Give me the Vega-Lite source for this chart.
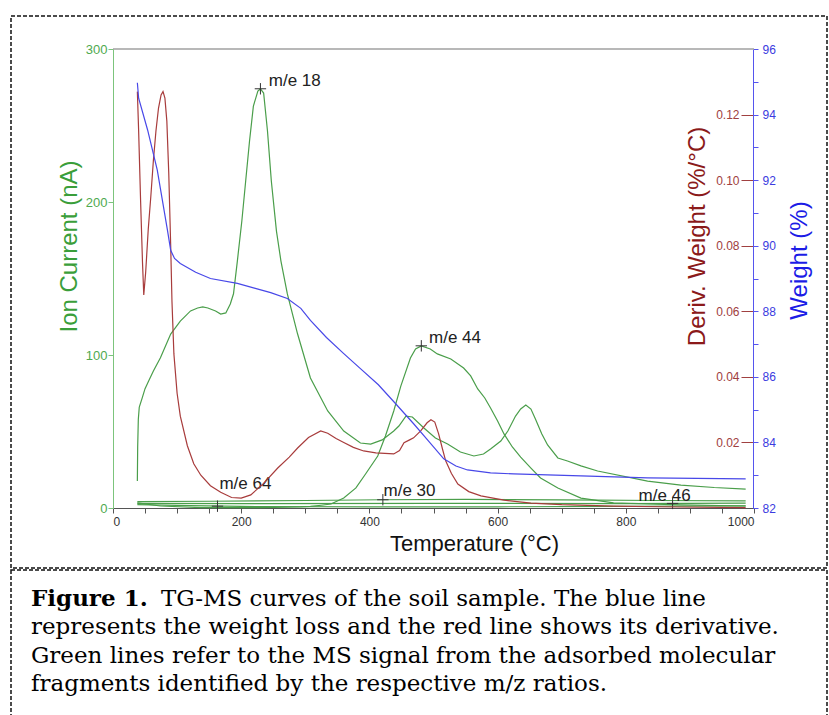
{
  "$schema": "https://vega.github.io/schema/vega-lite/v6.json",
  "padding": {"left": 10, "top": 15, "right": 0, "bottom": 0},
  "autosize": {"type": "pad"},
  "background": "white",
  "spacing": 0,
  "config": {
    "view": {"stroke": "#111", "strokeWidth": 1.5, "strokeDash": [4, 2]},
    "axis": {"grid": false, "labelFont": "Liberation Sans", "titleFont": "Liberation Sans", "titleFontWeight": "normal", "labelOverlap": false},
    "text": {"font": "Liberation Sans"}
  },
  "datasets": {
    "ms": [
      {"mz": "18", "T": 38, "ion": 17.6}, {"mz": "18", "T": 38.5, "ion": 40}, {"mz": "18", "T": 39.5, "ion": 58}, {"mz": "18", "T": 41, "ion": 66}, {"mz": "18", "T": 45.6, "ion": 72}, {"mz": "18", "T": 50, "ion": 78}, {"mz": "18", "T": 55.6, "ion": 83}, {"mz": "18", "T": 63, "ion": 89.5}, {"mz": "18", "T": 74, "ion": 98.2}, {"mz": "18", "T": 90, "ion": 113.7}, {"mz": "18", "T": 105, "ion": 122.2}, {"mz": "18", "T": 121, "ion": 128.8}, {"mz": "18", "T": 132, "ion": 130.7}, {"mz": "18", "T": 140, "ion": 131.5}, {"mz": "18", "T": 148, "ion": 130.7}, {"mz": "18", "T": 160, "ion": 128.8}, {"mz": "18", "T": 168, "ion": 126.8}, {"mz": "18", "T": 176, "ion": 127.5}, {"mz": "18", "T": 183, "ion": 133.3}, {"mz": "18", "T": 188, "ion": 140}, {"mz": "18", "T": 194, "ion": 161.4}, {"mz": "18", "T": 201, "ion": 187.6}, {"mz": "18", "T": 207, "ion": 213.7}, {"mz": "18", "T": 213, "ion": 239.9}, {"mz": "18", "T": 219, "ion": 262.7}, {"mz": "18", "T": 226, "ion": 272.5}, {"mz": "18", "T": 230, "ion": 273.9}, {"mz": "18", "T": 235, "ion": 271.2}, {"mz": "18", "T": 241, "ion": 246.4}, {"mz": "18", "T": 247, "ion": 213.7}, {"mz": "18", "T": 255, "ion": 181}, {"mz": "18", "T": 262, "ion": 161.4}, {"mz": "18", "T": 272, "ion": 139.9}, {"mz": "18", "T": 288, "ion": 113.7}, {"mz": "18", "T": 308, "ion": 85}, {"mz": "18", "T": 335, "ion": 63.4}, {"mz": "18", "T": 360, "ion": 50.3}, {"mz": "18", "T": 386, "ion": 42.5}, {"mz": "18", "T": 402, "ion": 41.8}, {"mz": "18", "T": 420, "ion": 44.5}, {"mz": "18", "T": 438, "ion": 50.3}, {"mz": "18", "T": 446, "ion": 53.6}, {"mz": "18", "T": 457, "ion": 60.1}, {"mz": "18", "T": 467, "ion": 59.5}, {"mz": "18", "T": 485, "ion": 52.3}, {"mz": "18", "T": 503, "ion": 45.8}, {"mz": "18", "T": 522, "ion": 41.8}, {"mz": "18", "T": 542, "ion": 36.6}, {"mz": "18", "T": 563, "ion": 34}, {"mz": "18", "T": 578, "ion": 35.3}, {"mz": "18", "T": 589, "ion": 38.6}, {"mz": "18", "T": 605, "ion": 43.8}, {"mz": "18", "T": 616, "ion": 50.3}, {"mz": "18", "T": 628, "ion": 60.1}, {"mz": "18", "T": 636, "ion": 64.7}, {"mz": "18", "T": 644, "ion": 67.3}, {"mz": "18", "T": 652, "ion": 64.7}, {"mz": "18", "T": 659, "ion": 58.2}, {"mz": "18", "T": 669, "ion": 48.4}, {"mz": "18", "T": 678, "ion": 41.2}, {"mz": "18", "T": 694, "ion": 32.7}, {"mz": "18", "T": 709, "ion": 30.7}, {"mz": "18", "T": 730, "ion": 27.5}, {"mz": "18", "T": 756, "ion": 24.2}, {"mz": "18", "T": 834, "ion": 17.6}, {"mz": "18", "T": 886, "ion": 15}, {"mz": "18", "T": 938, "ion": 13.4}, {"mz": "18", "T": 987, "ion": 12.4},
      {"mz": "44", "T": 38, "ion": 3.3}, {"mz": "44", "T": 74, "ion": 1.3}, {"mz": "44", "T": 137, "ion": 0.3}, {"mz": "44", "T": 230, "ion": 0.3}, {"mz": "44", "T": 293, "ion": 0.7}, {"mz": "44", "T": 308, "ion": 1.0}, {"mz": "44", "T": 325, "ion": 1.8}, {"mz": "44", "T": 340, "ion": 2.6}, {"mz": "44", "T": 360, "ion": 6.5}, {"mz": "44", "T": 379, "ion": 13.1}, {"mz": "44", "T": 394, "ion": 22.2}, {"mz": "44", "T": 413, "ion": 34}, {"mz": "44", "T": 425, "ion": 47.1}, {"mz": "44", "T": 438, "ion": 63.4}, {"mz": "44", "T": 449, "ion": 79.7}, {"mz": "44", "T": 464, "ion": 98}, {"mz": "44", "T": 472, "ion": 103.9}, {"mz": "44", "T": 481, "ion": 105.9}, {"mz": "44", "T": 495, "ion": 103.9}, {"mz": "44", "T": 506, "ion": 100.7}, {"mz": "44", "T": 527, "ion": 97.4}, {"mz": "44", "T": 547, "ion": 91.5}, {"mz": "44", "T": 558, "ion": 86.3}, {"mz": "44", "T": 569, "ion": 77.8}, {"mz": "44", "T": 580, "ion": 71.9}, {"mz": "44", "T": 589, "ion": 65.4}, {"mz": "44", "T": 600, "ion": 56.9}, {"mz": "44", "T": 610, "ion": 48.4}, {"mz": "44", "T": 623, "ion": 39.9}, {"mz": "44", "T": 636, "ion": 33.3}, {"mz": "44", "T": 652, "ion": 26.1}, {"mz": "44", "T": 667, "ion": 19.6}, {"mz": "44", "T": 694, "ion": 13.1}, {"mz": "44", "T": 730, "ion": 6.5}, {"mz": "44", "T": 781, "ion": 3.3}, {"mz": "44", "T": 886, "ion": 2.0}, {"mz": "44", "T": 987, "ion": 1.3},
      {"mz": "30", "T": 38, "ion": 4.2}, {"mz": "30", "T": 150, "ion": 4.4}, {"mz": "30", "T": 300, "ion": 4.9}, {"mz": "30", "T": 420, "ion": 5.4}, {"mz": "30", "T": 550, "ion": 5.6}, {"mz": "30", "T": 700, "ion": 5.3}, {"mz": "30", "T": 850, "ion": 4.9}, {"mz": "30", "T": 987, "ion": 4.6},
      {"mz": "46", "T": 38, "ion": 3.0}, {"mz": "46", "T": 200, "ion": 2.8}, {"mz": "46", "T": 500, "ion": 3.0}, {"mz": "46", "T": 800, "ion": 2.9}, {"mz": "46", "T": 987, "ion": 3.2},
      {"mz": "64", "T": 38, "ion": 2.2}, {"mz": "64", "T": 120, "ion": 1.5}, {"mz": "64", "T": 200, "ion": 1.0}, {"mz": "64", "T": 400, "ion": 0.8}, {"mz": "64", "T": 600, "ion": 0.8}, {"mz": "64", "T": 800, "ion": 1.0}, {"mz": "64", "T": 987, "ion": 1.4}
    ],
    "markers": [
      {"label": "m/e 18", "T": 230, "ion": 274, "labelT": 243, "labelIon": 279},
      {"label": "m/e 44", "T": 481, "ion": 106, "labelT": 493, "labelIon": 111},
      {"label": "m/e 64", "T": 163, "ion": 1.2, "labelT": 166, "labelIon": 16},
      {"label": "m/e 30", "T": 421, "ion": 5.4, "labelT": 422, "labelIon": 11},
      {"label": "m/e 46", "T": 873, "ion": 3.0, "labelT": 820, "labelIon": 8}
    ],
    "deriv": [
      {"T": 38, "d": 0.127}, {"T": 40, "d": 0.115}, {"T": 43, "d": 0.094}, {"T": 46, "d": 0.075}, {"T": 48, "d": 0.065}, {"T": 51, "d": 0.072}, {"T": 55, "d": 0.085}, {"T": 59, "d": 0.095}, {"T": 63, "d": 0.106}, {"T": 67, "d": 0.115}, {"T": 71, "d": 0.122}, {"T": 75, "d": 0.126}, {"T": 78, "d": 0.127}, {"T": 81, "d": 0.125}, {"T": 84, "d": 0.118}, {"T": 87, "d": 0.102}, {"T": 90, "d": 0.08}, {"T": 92, "d": 0.063}, {"T": 95, "d": 0.047}, {"T": 100, "d": 0.035}, {"T": 105, "d": 0.028}, {"T": 116, "d": 0.019}, {"T": 126, "d": 0.0135}, {"T": 137, "d": 0.01}, {"T": 152, "d": 0.0068}, {"T": 168, "d": 0.0048}, {"T": 185, "d": 0.0032}, {"T": 200, "d": 0.003}, {"T": 215, "d": 0.004}, {"T": 235, "d": 0.0075}, {"T": 257, "d": 0.0122}, {"T": 275, "d": 0.0155}, {"T": 288, "d": 0.0183}, {"T": 305, "d": 0.0215}, {"T": 324, "d": 0.0235}, {"T": 335, "d": 0.0228}, {"T": 348, "d": 0.0212}, {"T": 360, "d": 0.02}, {"T": 375, "d": 0.0185}, {"T": 391, "d": 0.0174}, {"T": 410, "d": 0.0168}, {"T": 438, "d": 0.0165}, {"T": 447, "d": 0.0175}, {"T": 454, "d": 0.0199}, {"T": 462, "d": 0.0207}, {"T": 469, "d": 0.0214}, {"T": 480, "d": 0.0235}, {"T": 490, "d": 0.026}, {"T": 496, "d": 0.0269}, {"T": 502, "d": 0.0262}, {"T": 508, "d": 0.0226}, {"T": 514, "d": 0.018}, {"T": 519, "d": 0.0144}, {"T": 528, "d": 0.0105}, {"T": 538, "d": 0.0073}, {"T": 555, "d": 0.005}, {"T": 574, "d": 0.0037}, {"T": 610, "d": 0.0024}, {"T": 652, "d": 0.0015}, {"T": 700, "d": 0.001}, {"T": 781, "d": 0.0006}, {"T": 880, "d": 0.0003}, {"T": 987, "d": 0.0001}
    ],
    "weight": [
      {"T": 38, "w": 94.97}, {"T": 40, "w": 94.5}, {"T": 54, "w": 93.53}, {"T": 69, "w": 92.31}, {"T": 77, "w": 91.39}, {"T": 85, "w": 90.47}, {"T": 90, "w": 89.86}, {"T": 96, "w": 89.61}, {"T": 105, "w": 89.46}, {"T": 129, "w": 89.19}, {"T": 152, "w": 89.0}, {"T": 194, "w": 88.85}, {"T": 222, "w": 88.7}, {"T": 246, "w": 88.57}, {"T": 272, "w": 88.39}, {"T": 293, "w": 88.09}, {"T": 308, "w": 87.72}, {"T": 333, "w": 87.2}, {"T": 360, "w": 86.71}, {"T": 386, "w": 86.25}, {"T": 414, "w": 85.76}, {"T": 441, "w": 85.18}, {"T": 469, "w": 84.57}, {"T": 492, "w": 84.05}, {"T": 516, "w": 83.5}, {"T": 535, "w": 83.28}, {"T": 553, "w": 83.16}, {"T": 589, "w": 83.07}, {"T": 625, "w": 83.04}, {"T": 730, "w": 82.98}, {"T": 834, "w": 82.92}, {"T": 987, "w": 82.89}
    ],
    "caption": [
      {"line": 1, "part": "bold", "text": "Figure 1."},
      {"line": 1, "part": "lead", "text": "TG-MS curves of the soil sample. The blue line"},
      {"line": 2, "part": "body", "text": "represents the weight loss and the red line shows its derivative."},
      {"line": 3, "part": "body", "text": "Green lines refer to the MS signal from the adsorbed molecular"},
      {"line": 4, "part": "body", "text": "fragments identified by the respective m/z ratios."}
    ]
  },
  "vconcat": [
    {
      "width": 816,
      "height": 552,
      "layer": [
        {
          "layer": [
            {
              "data": {"name": "ms"},
              "mark": {"type": "line", "color": "#4a9e4a", "strokeWidth": 1.2},
              "encoding": {
                "x": {"field": "T", "type": "quantitative", "scale": {"domain": [0, 1000], "range": [102, 743], "nice": false, "zero": false},
                  "axis": {"orient": "bottom", "offset": -60, "values": [0, 50, 100, 150, 200, 250, 300, 350, 400, 450, 500, 550, 600, 650, 700, 750, 800, 850, 900, 950, 1000],
                    "labelExpr": "datum.value % 200 === 0 ? datum.label : ''", "format": "d", "domainColor": "#555", "tickColor": "#555", "tickSize": 5, "labelColor": "#333", "labelFontSize": 12, "labelPadding": 3,
                    "title": "Temperature (°C)", "titleColor": "#111", "titleFontSize": 22, "titlePadding": 6, "titleX": 463}},
                "y": {"field": "ion", "type": "quantitative", "scale": {"domain": [0, 300], "range": [492, 33], "nice": false, "zero": false},
                  "axis": {"orient": "left", "offset": -102, "values": [0, 100, 200, 300], "domainColor": "#7cc47c", "tickColor": "#7cc47c", "tickSize": 5, "labelColor": "#4faa4f", "labelFontSize": 13, "labelPadding": 1,
                    "title": "Ion Current (nA)", "titleColor": "#3a9e3a", "titleFontSize": 24, "titlePadding": 4, "titleY": 230}},
                "detail": {"field": "mz"}
              }
            },
            {
              "data": {"name": "ms"},
              "transform": [{"filter": "datum.mz === '18'"}, {"aggregate": [{"op": "count", "as": "n"}]}],
              "mark": {"type": "rule", "color": "#a0a0a0", "strokeWidth": 1.5},
              "encoding": {
                "x": {"datum": 0, "type": "quantitative"},
                "x2": {"datum": 1000},
                "y": {"datum": 300, "type": "quantitative"}
              }
            },
            {
              "data": {"name": "markers"},
              "mark": {"type": "point", "shape": "M-1,0H1M0,-1V1", "filled": false, "stroke": "#333", "strokeWidth": 1, "size": 130, "opacity": 1},
              "encoding": {
                "x": {"field": "T", "type": "quantitative"},
                "y": {"field": "ion", "type": "quantitative"}
              }
            },
            {
              "data": {"name": "markers"},
              "mark": {"type": "text", "align": "left", "baseline": "middle", "fontSize": 17, "color": "#222", "font": "Liberation Sans"},
              "encoding": {
                "x": {"field": "labelT", "type": "quantitative"},
                "y": {"field": "labelIon", "type": "quantitative"},
                "text": {"field": "label"}
              }
            }
          ]
        },
        {
          "data": {"name": "deriv"},
          "mark": {"type": "line", "color": "#a83c3c", "strokeWidth": 1.2},
          "encoding": {
            "x": {"field": "T", "type": "quantitative"},
            "y": {"field": "d", "type": "quantitative", "scale": {"domain": [0, 0.14], "range": [492, 33], "nice": false, "zero": false},
              "axis": {"orient": "left", "offset": -742, "values": [0.02, 0.04, 0.06, 0.08, 0.1, 0.12], "format": ".2f", "domain": false, "tickColor": "#a04040", "tickSize": 12, "labelColor": "#a04040", "labelFontSize": 12, "labelPadding": 2,
                "title": "Deriv. Weight (%/°C)", "titleColor": "#8b1a1a", "titleFontSize": 24, "titlePadding": 6, "titleY": 220}}
          }
        },
        {
          "data": {"name": "weight"},
          "mark": {"type": "line", "color": "#4848e8", "strokeWidth": 1.2},
          "encoding": {
            "x": {"field": "T", "type": "quantitative"},
            "y": {"field": "w", "type": "quantitative", "scale": {"domain": [82, 96], "range": [492, 33], "nice": false, "zero": false},
              "axis": {"orient": "right", "offset": -74, "values": [82, 82.5, 83, 83.5, 84, 84.5, 85, 85.5, 86, 86.5, 87, 87.5, 88, 88.5, 89, 89.5, 90, 90.5, 91, 91.5, 92, 92.5, 93, 93.5, 94, 94.5, 95, 95.5, 96],
                "format": "d", "labelExpr": "datum.value % 2 === 0 ? datum.label : ''", "domainColor": "#5555ee", "tickColor": "#5555ee", "tickSize": 5, "labelColor": "#3b3be0", "labelFontSize": 12, "labelPadding": 4,
                "title": "Weight (%)", "titleColor": "#1c1ce6", "titleFontSize": 24, "titleAngle": 270, "titleBaseline": "top", "titlePadding": 12, "titleY": 244}}
          }
        }
      ],
      "resolve": {"scale": {"y": "independent"}}
    },
    {
      "width": 816,
      "height": 170,
      "data": {"name": "caption"},
      "layer": [
        {
          "transform": [{"filter": "datum.part === 'bold'"}],
          "mark": {"type": "text", "font": "DejaVu Serif", "fontSize": 23, "fontWeight": "bold", "align": "left", "baseline": "alphabetic", "color": "#000"},
          "encoding": {
            "x": {"datum": 0, "type": "quantitative", "scale": {"domain": [0, 1], "range": [20, 816]}, "axis": null},
            "y": {"field": "line", "type": "quantitative", "scale": {"domain": [1, 4], "range": [36, 121]}, "axis": null},
            "text": {"field": "text"}
          }
        },
        {
          "transform": [{"filter": "datum.part === 'lead'"}],
          "mark": {"type": "text", "font": "DejaVu Serif", "fontSize": 23, "align": "left", "baseline": "alphabetic", "color": "#000", "dx": 130},
          "encoding": {
            "x": {"datum": 0, "type": "quantitative"},
            "y": {"field": "line", "type": "quantitative"},
            "text": {"field": "text"}
          }
        },
        {
          "transform": [{"filter": "datum.part === 'body'"}],
          "mark": {"type": "text", "font": "DejaVu Serif", "fontSize": 23, "align": "left", "baseline": "alphabetic", "color": "#000"},
          "encoding": {
            "x": {"datum": 0, "type": "quantitative"},
            "y": {"field": "line", "type": "quantitative"},
            "text": {"field": "text"}
          }
        }
      ]
    }
  ]
}
